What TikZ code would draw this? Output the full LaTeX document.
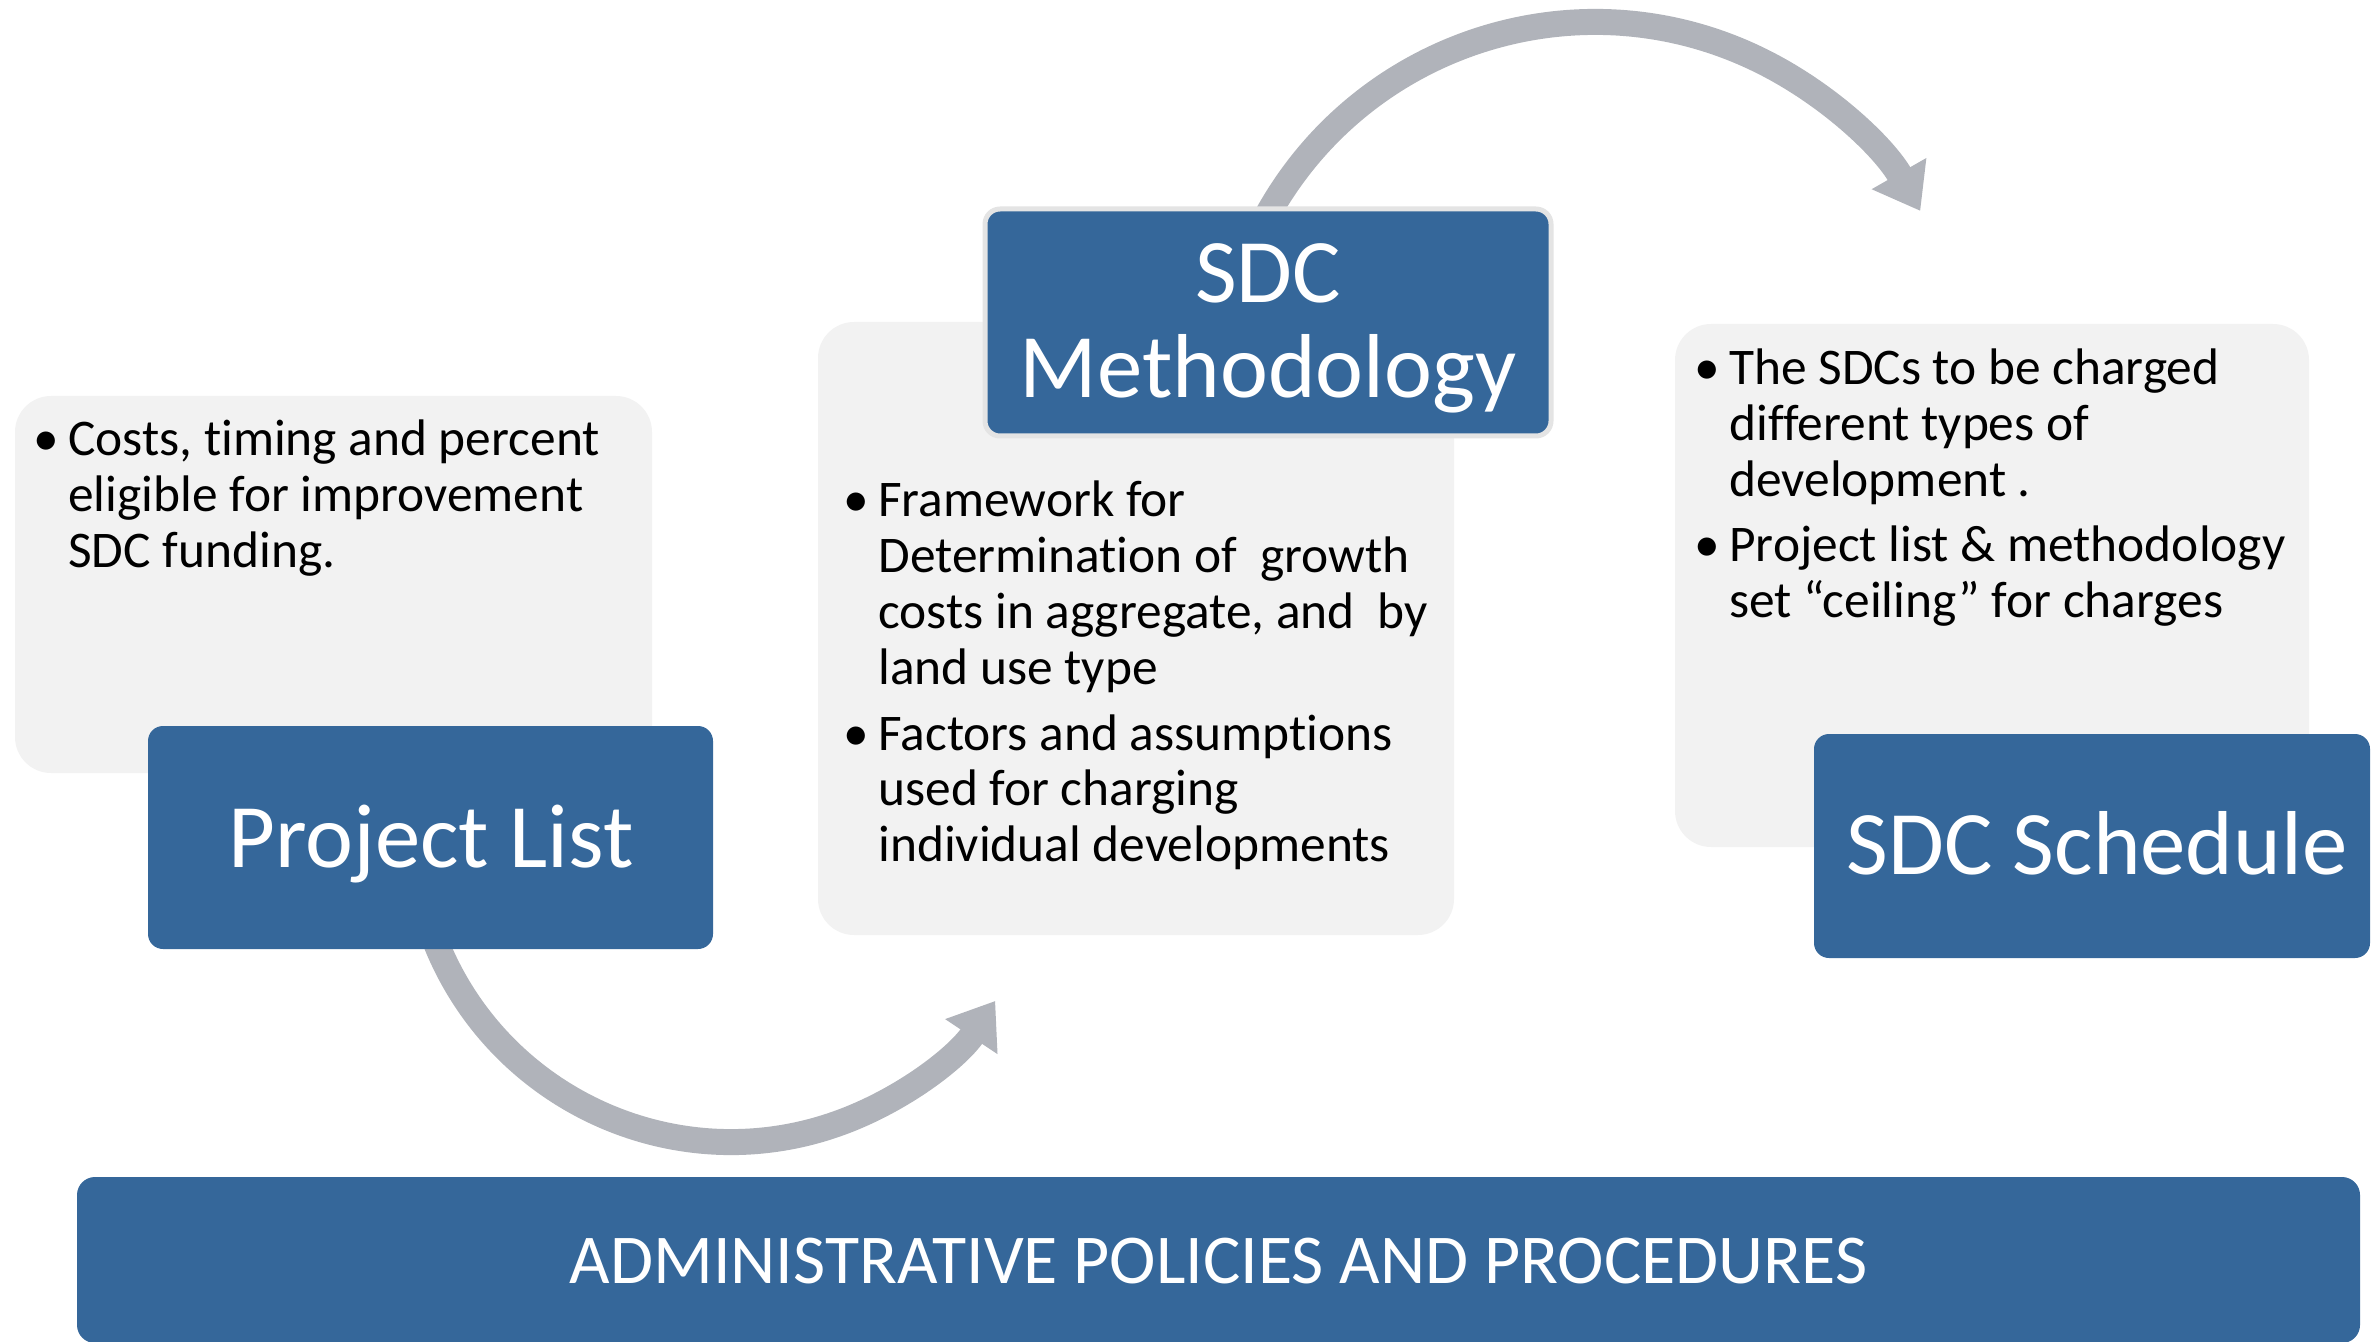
\documentclass[tikz,border=0pt]{standalone}
\usepackage{fontspec}
\setmainfont{Carlito}[Ligatures=NoCommon]
\usetikzlibrary{arrows.meta}
\definecolor{boxblue}{HTML}{35679A}
\definecolor{panelgray}{HTML}{F2F2F2}
\definecolor{arrowgray}{HTML}{B0B3BA}
\definecolor{ringgray}{HTML}{E4E4E4}
\newcommand\bul{\makebox[17.5pt][l]{\textbullet}}
\newcommand\stackl[1]{\vtop{\halign{##\hfil\cr#1\crcr}}}
\newcommand\stackc[1]{\vtop{\halign{\hfil##\hfil\cr#1\crcr}}}
\begin{document}
\begin{tikzpicture}[x=0.5pt,y=0.5pt,
  panel/.style={fill=panelgray, rounded corners=18pt, inner sep=0pt, outer sep=0pt},
  bluebox/.style={fill=boxblue, rounded corners=7.5pt, inner sep=0pt, outer sep=0pt},
  bodytext/.style={anchor=base west, inner sep=0pt, font=\fontsize{25.7pt}{27.9pt}\selectfont},
  titletext/.style={anchor=base, inner sep=0pt, text=white, font=\fontsize{45.4pt}{47.5pt}\selectfont},
  bartext/.style={anchor=base, inner sep=0pt, text=white, font=\fontsize{35pt}{40pt}\selectfont},
  bigarrow/.style={draw=arrowgray, line width=13pt, -{Triangle[length=21.5pt,width=30pt]}}]
\useasboundingbox (0,0) rectangle (2372,1341);
% panels
\node[panel, minimum width=318.5pt, minimum height=188.5pt] (p1) at (333.5,756.5) {};
\node[panel, minimum width=318pt, minimum height=306.5pt] (p2) at (1136,712.5) {};
\node[panel, minimum width=317pt, minimum height=261.5pt] (p3) at (1992,755.5) {};
% arrows
\coordinate (c1) at (731,517);
\coordinate (c2) at (1595,944.5);
\draw[bigarrow] (c1) ++(200:318) arc[start angle=200, end angle=326.2, radius=318];
\draw[bigarrow] (c2) ++(153:374.5) arc[start angle=153, end angle=29.7, radius=374.5];
% blue boxes
\node[bluebox, minimum width=282.5pt, minimum height=111.5pt] (pl) at (430.5,503.5) {};
\node[bluebox, draw=ringgray, line width=2.5pt, minimum width=283pt, minimum height=113.5pt] (sm) at (1268,1018.5) {};
\node[bluebox, minimum width=278pt, minimum height=112pt] (ss) at (2092,495) {};
\node[bluebox, rounded corners=9pt, minimum width=1141.5pt, minimum height=83pt] (bar) at (1218.5,81) {};
% titles
\node[titletext] (plt) at (431,474) {Project List};
\node[titletext] (smt) at (1268,1038) {\stackc{SDC\cr Methodology}};
\node[titletext] (sst) at (2097,467) {SDC Schedule};
\node[bartext] (bart) at (1218.5,58) {ADMINISTRATIVE POLICIES AND PROCEDURES};
% bullet texts
\node[bodytext] (t1) at (33,885) {\bul\stackl{Costs, timing and percent\cr eligible for improvement\cr SDC funding.}};
\node[bodytext] (t2) at (843,824) {\bul\stackl{Framework for\cr Determination of \ growth\cr costs in aggregate, and \ by\cr land use type}};
\node[bodytext] (t3) at (843,591) {\bul\stackl{Factors and assumptions\cr used for charging\cr individual developments}};
\node[bodytext] (t4) at (1694,956) {\bul\stackl{The SDCs to be charged\cr different types of\cr development .}};
\node[bodytext] (t5) at (1694,779) {\bul\stackl{Project list \& methodology\cr set “ceiling” for charges}};
\end{tikzpicture}
\end{document}
